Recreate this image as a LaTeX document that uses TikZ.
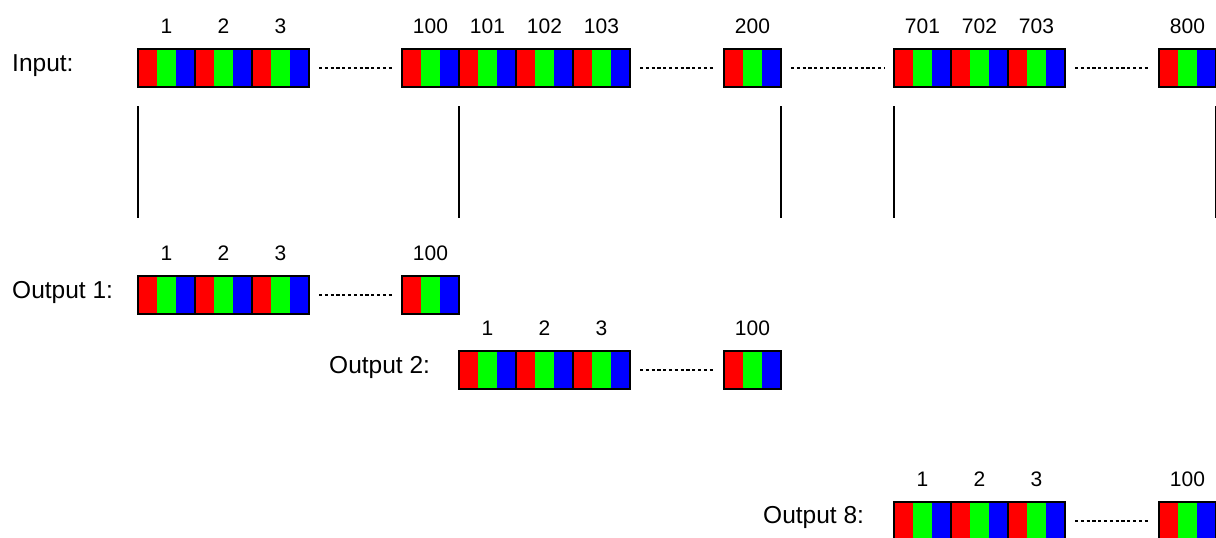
\documentclass[tikz,border=0pt]{standalone}
\usepackage{fontspec}
\setmainfont{Liberation Sans}
\definecolor{pr}{RGB}{255,0,0}
\definecolor{pg}{RGB}{0,255,0}
\definecolor{pb}{RGB}{0,0,255}
\tikzset{
  cell/.style={rectangle, draw=black, line width=1.4pt, minimum width=57pt, minimum height=38pt,
    inner sep=0pt, outer sep=0pt, anchor=north west,
    path picture={
      \fill[pr] (path picture bounding box.south west) rectangle ([xshift=19pt]path picture bounding box.north west);
      \fill[pg] ([xshift=19pt]path picture bounding box.south west) rectangle ([xshift=38pt]path picture bounding box.north west);
      \fill[pb] ([xshift=38pt]path picture bounding box.south west) rectangle (path picture bounding box.north east);
    }},
  num/.style={anchor=base, inner sep=0pt, font=\fontsize{21}{25}\selectfont},
  lbl/.style={anchor=base west, inner sep=0pt, font=\fontsize{24.5}{29}\selectfont},
  dots/.style={line width=1.4pt, dash pattern=on 3.2pt off 2.6pt, shorten <=10pt, shorten >=10pt},
  vline/.style={line width=1.6pt}
}
\newcommand\pcell[4]{%
  \node[cell] (#1) at (#2,#3) {};
  \node[num] (#1n) at ([yshift=16pt]#1.north) {#4};
}
\begin{document}
\begin{tikzpicture}[x=1pt,y=-1pt]
\useasboundingbox (0,0) rectangle (1216,538);
% Input row
\node[lbl] (lin) at (12,71) {Input:};
\foreach \n [count=\i from 0] in {1,2,3} {\pcell{in\n}{{138+57*\i}}{49}{\n}}
\foreach \n [count=\i from 0] in {100,101,102,103} {\pcell{in\n}{{402+57*\i}}{49}{\n}}
\pcell{in200}{724}{49}{200}
\foreach \n [count=\i from 0] in {701,702,703} {\pcell{in\n}{{894+57*\i}}{49}{\n}}
\pcell{in800}{1159}{49}{800}
\draw[dots] (in3.east) -- (in100.west);
\draw[dots] (in103.east) -- (in200.west);
\draw[dots] (in200.east) -- (in701.west);
\draw[dots] (in703.east) -- (in800.west);
% vertical separators
\draw[vline] ([yshift=-19pt]in1.south west) -- ([yshift=-131pt]in1.south west);
\draw[vline] ([yshift=-19pt]in100.south east) -- ([yshift=-131pt]in100.south east);
\draw[vline] ([yshift=-19pt]in200.south east) -- ([yshift=-131pt]in200.south east);
\draw[vline] ([yshift=-19pt]in701.south west) -- ([yshift=-131pt]in701.south west);
\draw[vline] ([yshift=-19pt]in800.south east) -- ([yshift=-131pt]in800.south east);
% Output 1
\node[lbl] (lo1) at (12,298) {Output 1:};
\foreach \n [count=\i from 0] in {1,2,3} {\pcell{a\n}{{138+57*\i}}{276}{\n}}
\pcell{a100}{402}{276}{100}
\draw[dots] (a3.east) -- (a100.west);
% Output 2
\node[lbl] (lo2) at (329,373) {Output 2:};
\foreach \n [count=\i from 0] in {1,2,3} {\pcell{b\n}{{459+57*\i}}{351}{\n}}
\pcell{b100}{724}{351}{100}
\draw[dots] (b3.east) -- (b100.west);
% Output 8
\node[lbl] (lo8) at (763,523) {Output 8:};
\foreach \n [count=\i from 0] in {1,2,3} {\pcell{c\n}{{894+57*\i}}{502}{\n}}
\pcell{c100}{1159}{502}{100}
\draw[dots] (c3.east) -- (c100.west);
\end{tikzpicture}
\end{document}
